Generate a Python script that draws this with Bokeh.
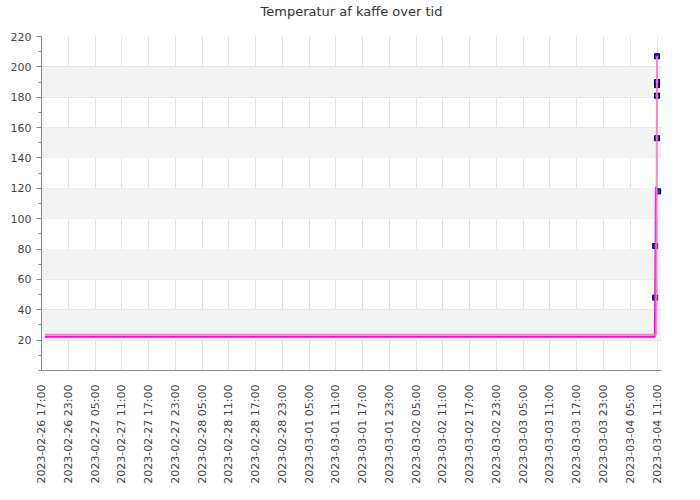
import math
import pandas as pd
from bokeh.plotting import figure
from bokeh.models import FixedTicker, DatetimeTickFormatter, BoxAnnotation, Range1d, Title
from bokeh.embed import file_html
from bokeh.resources import INLINE

# ---- data ----
title_text = "Temperatur af kaffe over tid"

magenta_times = ["2023-02-26 17:45", "2023-03-04 10:30", "2023-03-04 10:35",
                 "2023-03-04 10:40", "2023-03-04 10:45"]
magenta_temps = [22.2, 22.2, 48, 82, 121]

pink_times = ["2023-02-26 17:45", "2023-03-04 10:50", "2023-03-04 11:00"]
pink_temps = [23.5, 23.5, 207]

marker_times = ["2023-03-04 10:35", "2023-03-04 10:35", "2023-03-04 11:15",
                "2023-03-04 11:00", "2023-03-04 11:00", "2023-03-04 11:00",
                "2023-03-04 11:00", "2023-03-04 11:00"]
marker_temps = [48, 82, 118, 153, 181, 188, 190, 207]

x_tick_labels = pd.date_range("2023-02-26 17:00", "2023-03-04 11:00", freq="6h")
y_ticks = [20, 40, 60, 80, 100, 120, 140, 160, 180, 200, 220]
y_minor = [0, 10, 30, 50, 70, 90, 110, 130, 150, 170, 190, 210]
bands = [(20, 40), (60, 80), (100, 120), (140, 160), (180, 200)]

x_start = pd.Timestamp("2023-02-26 17:00")
x_end = pd.Timestamp("2023-03-04 12:00")


def ms(ts):
    return [pd.Timestamp(t).value / 1e6 for t in ts]


x0, x1 = ms([x_start])[0], ms([x_end])[0]

p = figure(width=690, height=490, x_axis_type="datetime",
           output_backend="svg", toolbar_location=None,
           title=title_text,
           x_range=Range1d(x0, x1),
           y_range=Range1d(0, 220),
           min_border_left=41, min_border_right=29,
           min_border_top=36, min_border_bottom=120)

p.title.align = "center"
p.title.vertical_align = "top"
p.title.text_font = "DejaVu Sans"
p.title.text_font_size = "13px"
p.title.text_font_style = "normal"
p.title.text_color = "#333333"
p.title.standoff = 0
p.title.offset = -3
# empty spacer between the frame and the title
p.add_layout(Title(text=" ", text_font_size="8px", standoff=5), "above")
p.outline_line_color = None
p.background_fill_color = "white"

for b0, b1 in bands:
    p.add_layout(BoxAnnotation(bottom=b0, top=b1, fill_color="#f3f3f3",
                               fill_alpha=1.0, line_color=None, level="underlay"))

# markers first, lines on top
p.scatter(ms(marker_times), marker_temps, marker="square", size=5,
          fill_color="#2222ff", line_color="black", line_width=1)
p.line(ms(magenta_times), magenta_temps, line_color="#ff00ee", line_width=2)
p.line(ms(pink_times), pink_temps, line_color="#f27fc0", line_width=2, line_alpha=0.9)

# axes
p.xaxis.ticker = FixedTicker(ticks=ms(x_tick_labels))
p.xaxis.formatter = DatetimeTickFormatter(
    minutes="%Y-%m-%d %H:%M", hourmin="%Y-%m-%d %H:%M", hours="%Y-%m-%d %H:%M",
    days="%Y-%m-%d %H:%M", months="%Y-%m-%d %H:%M", years="%Y-%m-%d %H:%M")
p.xaxis.major_label_orientation = math.pi / 2
p.yaxis.ticker = FixedTicker(ticks=y_ticks, minor_ticks=y_minor)
p.yaxis.major_tick_out = 5
p.yaxis.major_tick_in = 0
p.yaxis.minor_tick_out = 3
p.yaxis.minor_tick_in = 0

for ax in (p.xaxis, p.yaxis):
    ax.axis_line_color = "#888888"
    ax.major_tick_line_color = "#888888"
    ax.minor_tick_line_color = "#888888"
    ax.major_label_text_font = "DejaVu Sans"
    ax.major_label_text_font_size = "11px"
    ax.major_label_text_color = "#444444"
p.xaxis.major_tick_line_color = None
p.xaxis.minor_tick_line_color = None
p.xaxis.major_label_standoff = 8
p.yaxis.major_label_standoff = 5

p.xgrid.grid_line_color = "#e3e3e3"
p.ygrid.grid_line_color = "#e3e3e3"
p.xgrid.ticker = FixedTicker(ticks=ms(x_tick_labels))
p.ygrid.ticker = FixedTicker(ticks=y_ticks)

open("out.html", "w").write(file_html(p, INLINE))
